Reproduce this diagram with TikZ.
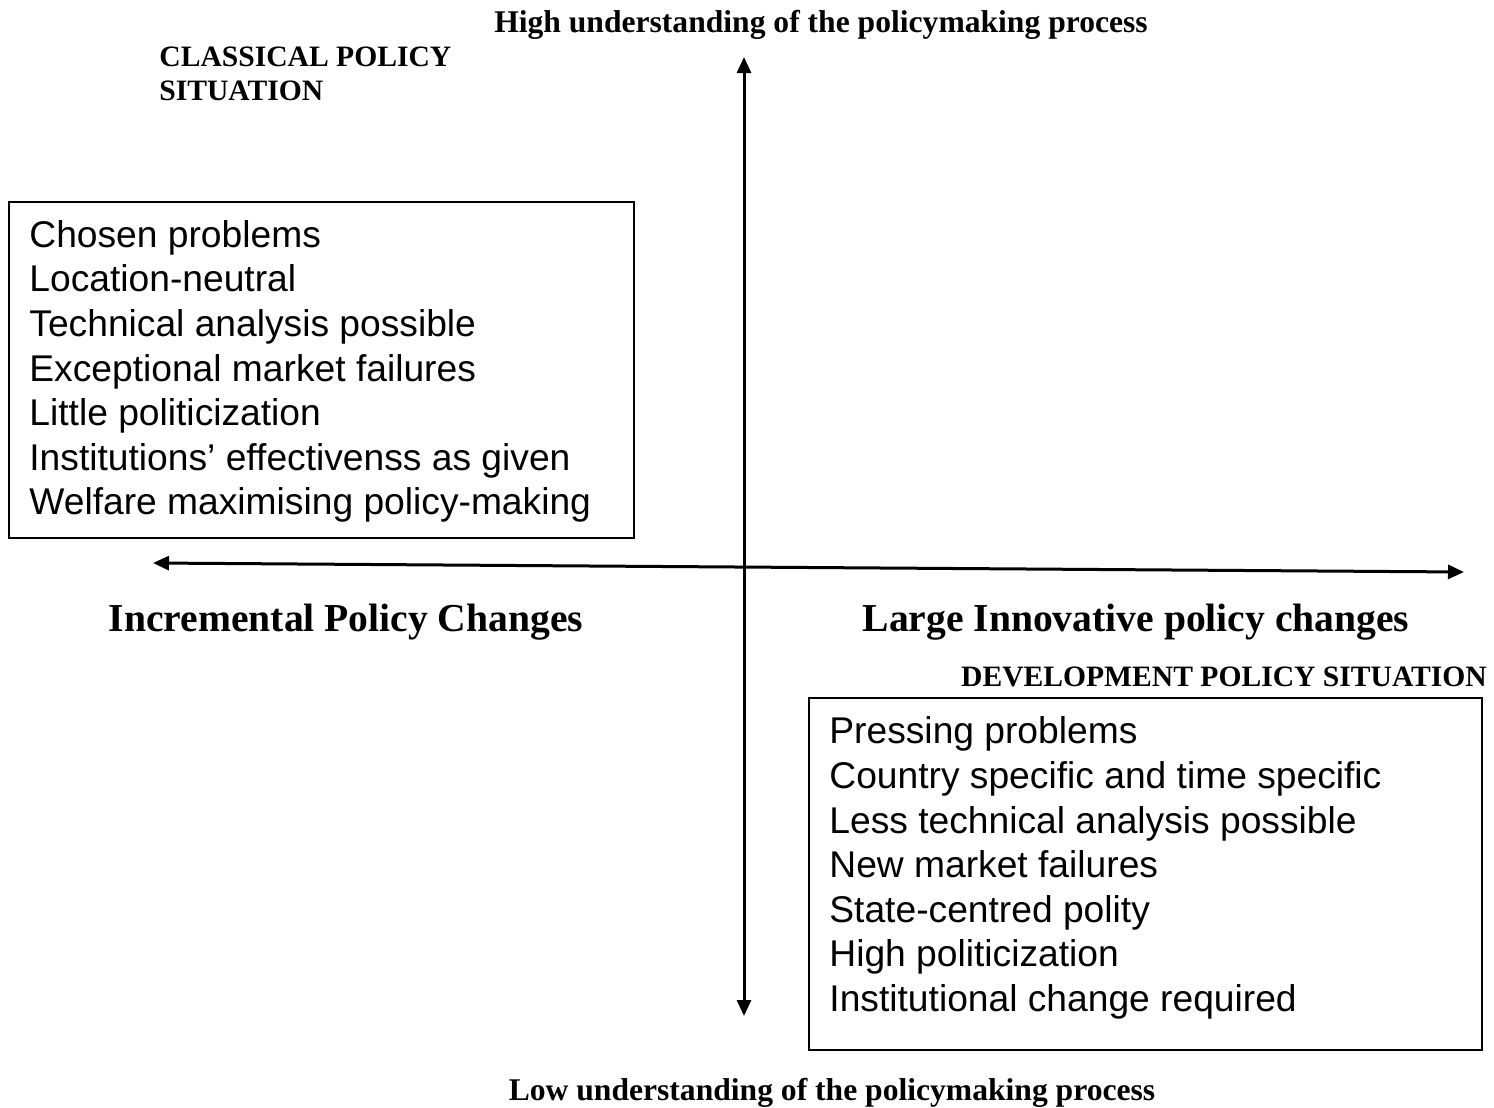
\documentclass[tikz,border=0pt]{standalone}
\usepackage{fontspec}
\setmainfont{Liberation Sans}
\newfontfamily\headserif{Liberation Serif}
\usetikzlibrary{arrows.meta}
\tikzset{
  axis/.style={line width=1.5pt, {Triangle[length=8pt,width=7pt]}-{Triangle[length=8pt,width=7pt]}},
  listbox/.style={draw, line width=1pt, anchor=north west, inner sep=0pt},
  listtext/.style={anchor=west, align=left, inner sep=0pt,
    font=\fontsize{18.6pt}{22.3pt}\selectfont},
  axislabel/.style={inner sep=0pt, font={\headserif\bfseries\fontsize{19.8pt}{24pt}\selectfont}},
  endlabel/.style={inner sep=0pt, font={\headserif\bfseries\fontsize{15.8pt}{19pt}\selectfont}},
  caplabel/.style={inner sep=0pt, font={\headserif\bfseries\fontsize{14.8pt}{17pt}\selectfont}},
}
\begin{document}
\begin{tikzpicture}[x=0.5pt, y=-0.5pt]
  \useasboundingbox (0,0) rectangle (1494,1108);

  % axes
  \coordinate (up)    at (744,57);
  \coordinate (down)  at (744,1016);
  \coordinate (left)  at (153,563);
  \coordinate (right) at (1464,572);
  \draw[axis] (down) -- (up);
  \draw[axis] (left) -- (right);

  % axis end labels
  \node[endlabel] (high) at (821,25) {High understanding of the policymaking process};
  \node[endlabel] (low)  at (832,1093) {Low understanding of the policymaking process};
  \node[axislabel] (incr)  at (346,622) {Incremental Policy Changes};
  \node[axislabel] (large) at (1136,622) {Large Innovative policy changes};

  % classical policy situation
  \node[caplabel, anchor=west, align=left] (classtitle) at (159,74) {CLASSICAL POLICY\\SITUATION};
  \node[listbox, minimum width=312.5pt, minimum height=168pt] (classbox) at (8,201) {};
  \node[listtext] (classlist) at (29,371.5) {Chosen problems\\
    Location-neutral\\
    Technical analysis possible\\
    Exceptional market failures\\
    Little politicization\\
    Institutions’ effectivenss as given\\
    Welfare maximising policy-making};

  % development policy situation
  \node[caplabel] (devtitle) at (1224,677) {DEVELOPMENT POLICY SITUATION};
  \node[listbox, minimum width=336.5pt, minimum height=176pt] (devbox) at (808,697) {};
  \node[listtext] (devlist) at (829,868) {Pressing problems\\
    Country specific and time specific\\
    Less technical analysis possible\\
    New market failures\\
    State-centred polity\\
    High politicization\\
    Institutional change required};
\end{tikzpicture}
\end{document}
